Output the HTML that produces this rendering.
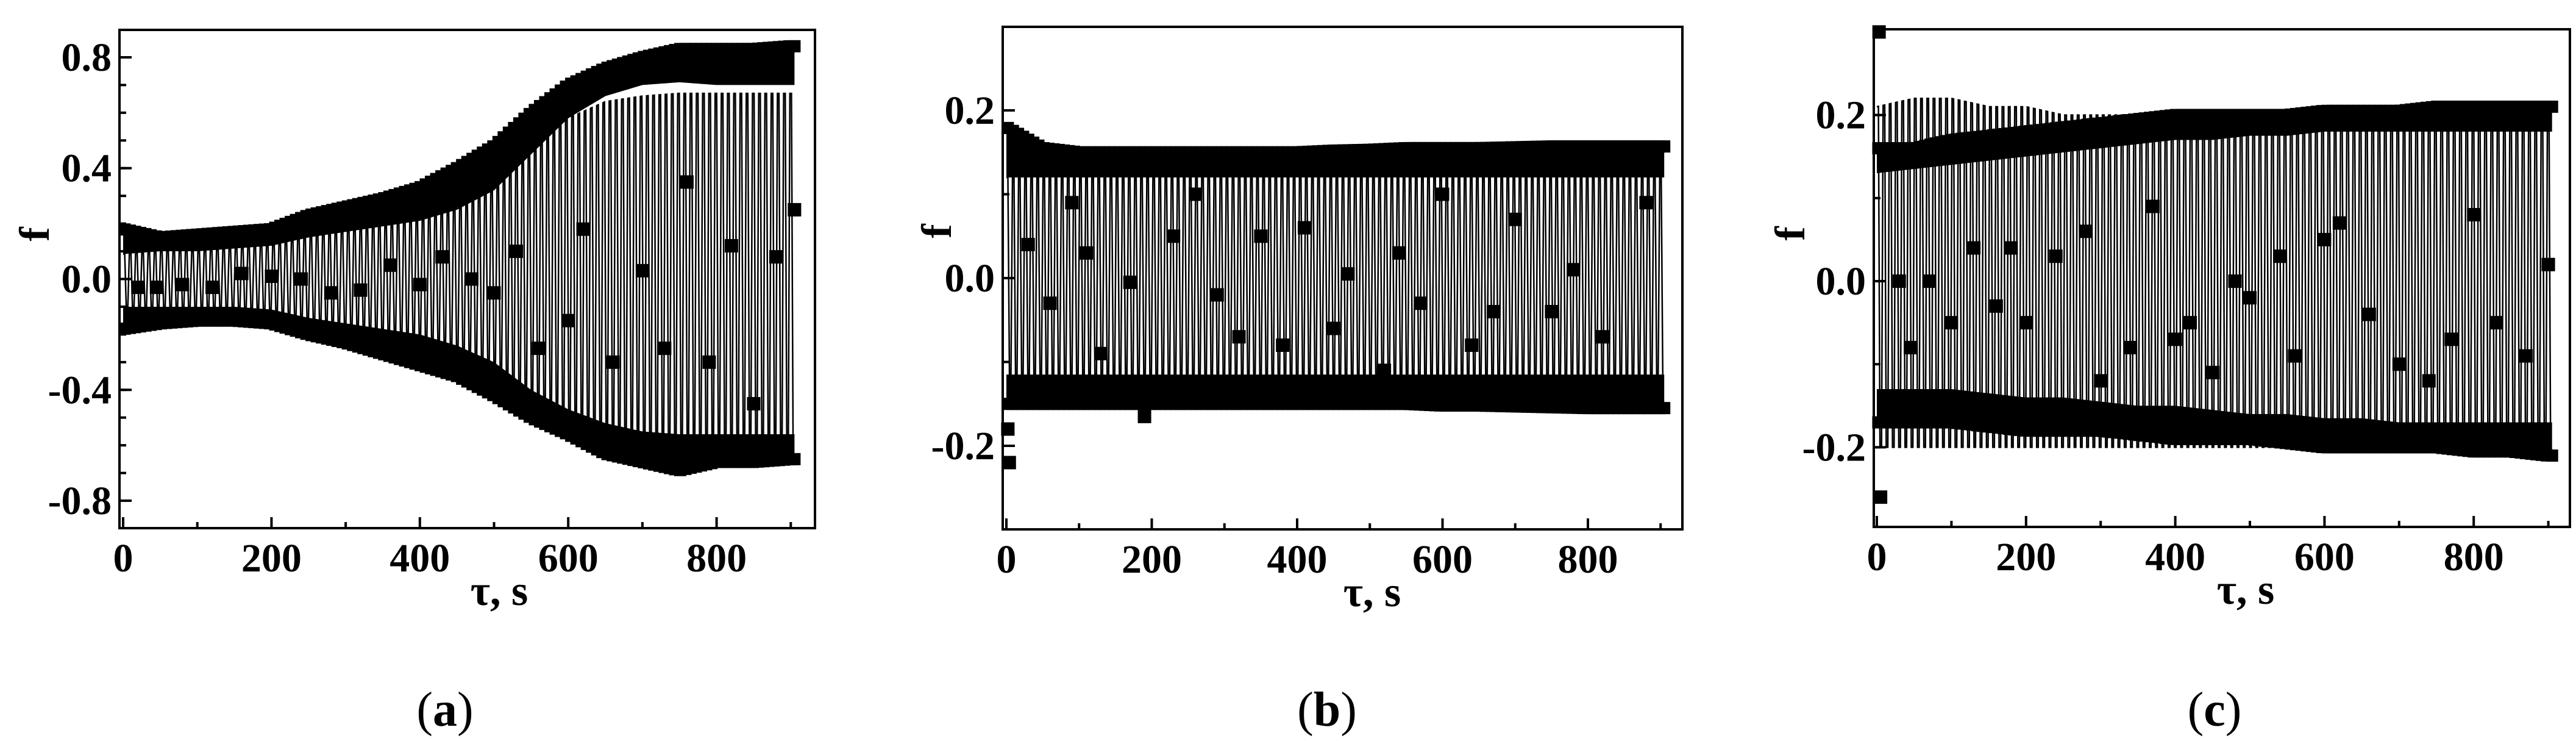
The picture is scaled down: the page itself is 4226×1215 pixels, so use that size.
<!DOCTYPE html>
<html><head><meta charset="utf-8"><style>
html,body{margin:0;padding:0;background:#fff}
svg{display:block}
text{font-family:"Liberation Serif",serif;fill:#000}
</style></head><body>
<svg id="fig" width="4226" height="1215" viewBox="0 0 4226 1215"></svg>
<script>
// knots every 50 s, 0..900
const knotTimes = [0,50,100,150,200,250,300,350,400,450,500,550,600,650,700,750,800,850,900];
// panel a
const aUpperOuter = [0.18,0.15,0.16,0.17,0.18,0.23,0.26,0.29,0.33,0.40,0.48,0.60,0.70,0.76,0.80,0.83,0.83,0.83,0.84];
const aUpperInner = [0.09,0.10,0.10,0.11,0.12,0.15,0.17,0.19,0.21,0.25,0.32,0.45,0.58,0.66,0.70,0.71,0.70,0.70,0.70];
const aZigHigh = [0.09,0.10,0.10,0.11,0.12,0.15,0.17,0.19,0.21,0.25,0.32,0.45,0.58,0.64,0.66,0.67,0.67,0.67,0.67];
const aZigLow = [-0.10,-0.10,-0.10,-0.10,-0.11,-0.14,-0.16,-0.18,-0.20,-0.24,-0.30,-0.40,-0.47,-0.52,-0.55,-0.56,-0.56,-0.56,-0.56];
const aLowerInner = [-0.10,-0.10,-0.10,-0.10,-0.11,-0.14,-0.16,-0.18,-0.20,-0.24,-0.30,-0.40,-0.47,-0.52,-0.55,-0.56,-0.56,-0.56,-0.56];
const aLowerOuter = [-0.18,-0.16,-0.15,-0.15,-0.16,-0.20,-0.23,-0.27,-0.31,-0.35,-0.42,-0.50,-0.56,-0.63,-0.66,-0.69,-0.66,-0.66,-0.65];
const aScatterT = [20,45,80,120,160,200,240,280,320,360,400,430,470,500,530,560,600,620,660,700,730,760,790,820,850,880,905];
const aScatterF = [-0.03,-0.03,-0.02,-0.03,0.02,0.01,0.0,-0.05,-0.04,0.05,-0.02,0.08,0.0,-0.05,0.10,-0.25,-0.15,0.18,-0.30,0.03,-0.25,0.35,-0.30,0.12,-0.45,0.08,0.25];
// panel b
const bUpperOuter = [0.18,0.155,0.15,0.15,0.15,0.15,0.15,0.15,0.15,0.152,0.153,0.155,0.155,0.155,0.156,0.157,0.157,0.157,0.157];
const bUpperInner = [0.12,0.12,0.12,0.12,0.12,0.12,0.12,0.12,0.12,0.12,0.12,0.12,0.12,0.12,0.12,0.12,0.12,0.12,0.12];
const bZigHigh = [0.12,0.12,0.12,0.12,0.12,0.12,0.12,0.12,0.12,0.12,0.12,0.12,0.12,0.12,0.12,0.12,0.12,0.12,0.12];
const bZigLow = [-0.115,-0.115,-0.115,-0.115,-0.115,-0.115,-0.115,-0.115,-0.115,-0.115,-0.115,-0.115,-0.115,-0.115,-0.115,-0.115,-0.115,-0.115,-0.115];
const bLowerInner = [-0.115,-0.115,-0.115,-0.115,-0.115,-0.115,-0.115,-0.115,-0.115,-0.115,-0.115,-0.115,-0.115,-0.115,-0.115,-0.115,-0.115,-0.115,-0.115];
const bLowerOuter = [-0.15,-0.15,-0.15,-0.15,-0.15,-0.15,-0.15,-0.15,-0.15,-0.15,-0.15,-0.15,-0.152,-0.152,-0.153,-0.154,-0.155,-0.155,-0.155];
const bScatterT = [2,4,30,60,90,110,130,170,190,230,260,290,320,350,380,410,450,470,520,540,570,600,640,670,700,750,780,820,880];
const bScatterF = [-0.18,-0.22,0.04,-0.03,0.09,0.03,-0.09,-0.005,-0.165,0.05,0.10,-0.02,-0.07,0.05,-0.08,0.06,-0.06,0.005,-0.11,0.03,-0.03,0.10,-0.08,-0.04,0.07,-0.04,0.01,-0.07,0.09];
// panel c
const cUpperOuter = [0.16,0.16,0.17,0.175,0.18,0.185,0.19,0.195,0.20,0.20,0.20,0.20,0.205,0.205,0.205,0.21,0.21,0.21,0.21];
const cUpperInner = [0.13,0.135,0.14,0.145,0.15,0.155,0.16,0.165,0.17,0.17,0.175,0.175,0.18,0.18,0.18,0.18,0.18,0.18,0.18];
const cZigHigh = [0.21,0.22,0.22,0.21,0.21,0.20,0.20,0.20,0.20,0.20,0.20,0.20,0.20,0.20,0.20,0.20,0.20,0.20,0.20];
const cZigLow = [-0.20,-0.20,-0.20,-0.20,-0.20,-0.20,-0.20,-0.20,-0.20,-0.20,-0.20,-0.20,-0.20,-0.20,-0.20,-0.20,-0.20,-0.20,-0.20];
const cLowerInner = [-0.13,-0.13,-0.13,-0.135,-0.14,-0.14,-0.145,-0.15,-0.15,-0.155,-0.16,-0.16,-0.165,-0.165,-0.17,-0.17,-0.17,-0.17,-0.17];
const cLowerOuter = [-0.17,-0.17,-0.17,-0.175,-0.18,-0.18,-0.18,-0.185,-0.19,-0.19,-0.19,-0.195,-0.20,-0.20,-0.20,-0.20,-0.205,-0.205,-0.21];
const cScatterT = [3,5,30,45,70,100,130,160,180,200,240,280,300,340,370,400,420,450,480,500,540,560,600,620,660,700,740,770,800,830,870,900];
const cScatterF = [0.30,-0.26,0.0,-0.08,0.0,-0.05,0.04,-0.03,0.04,-0.05,0.03,0.06,-0.12,-0.08,0.09,-0.07,-0.05,-0.11,0.0,-0.02,0.03,-0.09,0.05,0.07,-0.04,-0.10,-0.12,-0.07,0.08,-0.05,-0.09,0.02];
const xTickLabels = ["0","200","400","600","800"];
const aYTicks = ["-0.8","-0.4","0.0","0.4","0.8"];
const bYTicks = ["-0.2","0.0","0.2"];
const cYTicks = ["-0.2","0.0","0.2"];

const NS = "http://www.w3.org/2000/svg";
const svg = document.getElementById("fig");
function mk(tag, attrs, parent){const e=document.createElementNS(NS,tag);for(const k in attrs)e.setAttribute(k,attrs[k]);(parent||svg).appendChild(e);return e;}
function interp(arr,t){const i=Math.min(Math.floor(t/50),arr.length-2);const f=Math.min(Math.max((t-i*50)/50,0),1);return arr[i]+(arr[i+1]-arr[i])*f;}

function panel(cfg){
  const g=mk("g",{});
  
  
  const X=t=>cfg.x0+t*cfg.xs;
  const Y=v=>cfg.yz-v*cfg.ys;
  const d=cfg.data;
  let up="",lo="";
  for(let t=0;t<=905;t+=5){up+=(up?"L":"M")+X(t)+","+Y(interp(d.uo,t));lo+=(lo?"L":"M")+X(t)+","+Y(interp(d.lo,t));}
  for(let t=905;t>=0;t-=5){up+="L"+X(t)+","+Y(interp(d.ui,t));lo+="L"+X(t)+","+Y(interp(d.li,t));}
  const ub=mk("path",{d:up+"Z",fill:"#000"},g);
  
  
  const lb=mk("path",{d:lo+"Z",fill:"#000"},g);
  
  
  let p="";let i=0;
  for(let t=0;t<=905;t+=2.1,i++){const hi=(Math.floor(i/2)%2===0);const v=hi?interp(d.zh,t):interp(d.zl,t);p+=(p?"L":"M")+X(t).toFixed(1)+","+Y(v).toFixed(1);}
  const ln=mk("path",{d:p,fill:"none",stroke:"#000","stroke-width":2.5},g);
  
  
  for(let t=2;t<=905;t+=7){
    [d.uo,d.lo].forEach(a=>{const r=mk("rect",{x:X(t)-10,y:Y(interp(a,t))-10,width:20,height:20,fill:"#000"},g);
      
      });
  }
  d.st.forEach((t,k)=>{const r=mk("rect",{x:X(t)-11,y:Y(d.sf[k])-11,width:22,height:22,fill:"#000"},g);
    
    });
  const fr=mk("rect",{x:cfg.L,y:cfg.T,width:cfg.R-cfg.L,height:cfg.B-cfg.T,fill:"none",stroke:"#000","stroke-width":4},g);
  
  
  cfg.yTicks.forEach(s=>{const v=parseFloat(s);const y=Y(v);
    const tk=mk("line",{x1:cfg.L,x2:cfg.L+20,y1:y,y2:y,stroke:"#000","stroke-width":4},g);
    
    
    const tx=mk("text",{x:cfg.L-13,y:y+22,"text-anchor":"end","font-size":66,"font-weight":"bold"},g);
    tx.textContent=s;
    
    });
  for(let v=-cfg.ymax;v<=cfg.ymax+1e-9;v+=cfg.minor){const y=Y(v);if(y<cfg.T+3||y>cfg.B-3)continue;
    const tk=mk("line",{x1:cfg.L,x2:cfg.L+11,y1:y,y2:y,stroke:"#000","stroke-width":4},g);
    
    }
  for(let t=0;t<=900;t+=100){const x=X(t);const major=t%200===0;
    const tk=mk("line",{x1:x,x2:x,y1:cfg.B,y2:cfg.B-(major?18:10),stroke:"#000","stroke-width":4},g);
    
    }
  xTickLabels.forEach(s=>{const tx=mk("text",{x:X(parseFloat(s)),y:cfg.B+71,"text-anchor":"middle","font-size":66,"font-weight":"bold"},g);
    tx.textContent=s;
    
    });
  const xl=mk("text",{x:cfg.xlab,y:cfg.B+126,"text-anchor":"middle","font-size":70,"font-weight":"bold"},g);
  xl.textContent="τ, s";
  
  
  const yl=mk("text",{x:0,y:0,"text-anchor":"middle","font-size":70,"font-weight":"bold",transform:`translate(${cfg.flab+44},${cfg.T+335}) rotate(-90)`},g);
  yl.textContent="f";
  
  
  const cap=mk("text",{x:cfg.cap,y:1190,"text-anchor":"middle","font-size":80},g);
  cap.innerHTML='(<tspan font-weight="bold">'+cfg.letter+'</tspan>)';
  
  
}
panel({name:"panel-a",L:196,R:1337,T:49,B:866,x0:202,xs:1.217,yz:457.5,ys:454.4,ymax:0.8,minor:0.1,yTicks:aYTicks,xlab:819,flab:36,cap:730,letter:"a",
  data:{uo:aUpperOuter,ui:aUpperInner,zh:aZigHigh,zl:aZigLow,li:aLowerInner,lo:aLowerOuter,st:aScatterT,sf:aScatterF}});
panel({name:"panel-b",L:1645,R:2760,T:44,B:868,x0:1651,xs:1.1925,yz:456,ys:1375,ymax:0.3,minor:0.1,yTicks:bYTicks,xlab:2251,flab:1516,cap:2177,letter:"b",
  data:{uo:bUpperOuter,ui:bUpperInner,zh:bZigHigh,zl:bZigLow,li:bLowerInner,lo:bLowerOuter,st:bScatterT,sf:bScatterF}});
panel({name:"panel-c",L:3074,R:4216,T:48,B:864,x0:3079,xs:1.224,yz:461,ys:1362,ymax:0.3,minor:0.1,yTicks:cYTicks,xlab:3684,flab:2916,cap:3633,letter:"c",
  data:{uo:cUpperOuter,ui:cUpperInner,zh:cZigHigh,zl:cZigLow,li:cLowerInner,lo:cLowerOuter,st:cScatterT,sf:cScatterF}});
</script>
</body></html>
